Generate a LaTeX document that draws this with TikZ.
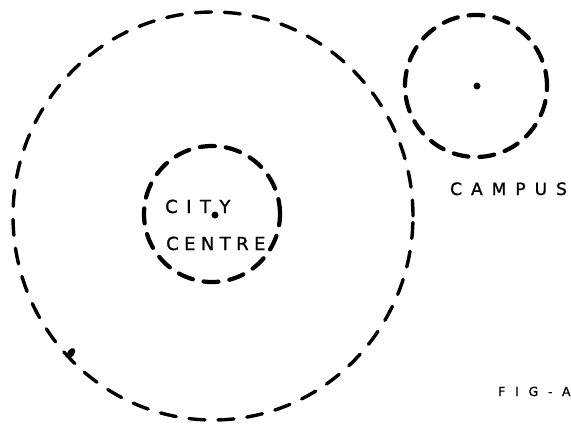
\documentclass[tikz,border=0pt]{standalone}
\usepackage{fontspec}
\newfontfamily\hand[FakeBold=1.2]{DejaVu Sans}
\begin{document}
\begin{tikzpicture}[x=1pt,y=-1pt,
  ring/.style={draw, line width=3.4pt, line cap=round, dash pattern=on 16pt off 13pt},
  smallring/.style={draw, line width=4.2pt, line cap=round, dash pattern=on 15pt off 11pt},
  lbl/.style={inner sep=0pt, anchor=base west},
  centredot/.style={fill, circle, inner sep=0pt, minimum size=7pt}]
\useasboundingbox (0,0) rectangle (571,424);
\clip (0,0) rectangle (571,424);
% outer city region
\draw[ring] (213,216) ellipse [x radius=200pt, y radius=204pt];
% ink blob on outer ring
\fill[rotate around={-35:(71,353)}] (71,353) ellipse [x radius=3.5pt, y radius=5.5pt];
% city centre ring
\draw[smallring] (212,214) circle [radius=68pt];
% campus ring
\draw[smallring] (476,86) circle [radius=71pt];
% dots
\node[centredot] (citydot) at (215,215) {};
\node[centredot] (campusdot) at (477,86) {};
% labels
\node[lbl] (city) at (165,213) {\hand\addfontfeature{LetterSpace=47}\fontsize{18}{18}\selectfont CITY};
\node[lbl] (centre) at (166,250) {\hand\addfontfeature{LetterSpace=30}\fontsize{18}{18}\selectfont CENTRE};
\node[lbl] (campus) at (450,195) {\hand\addfontfeature{LetterSpace=53}\fontsize{17}{17}\selectfont CAMPUS};
\node[lbl] (fig) at (498,396) {\hand\addfontfeature{LetterSpace=78}\fontsize{12.5}{12.5}\selectfont FIG-A};
\end{tikzpicture}
\end{document}
